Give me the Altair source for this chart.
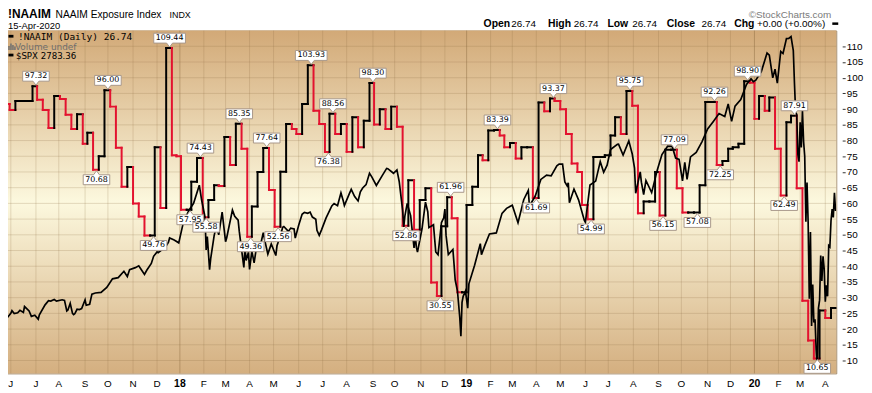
import altair as alt
import numpy as np
import pandas as pd

# ---------------- data ----------------
holidays = ["2017-05-29", "2017-07-04", "2017-09-04", "2017-11-23", "2017-12-25",
            "2018-01-01", "2018-01-15", "2018-02-19", "2018-03-30", "2018-05-28",
            "2018-07-04", "2018-09-03", "2018-11-22", "2018-12-05", "2018-12-25",
            "2019-01-01", "2019-01-21", "2019-02-18", "2019-04-19", "2019-05-27",
            "2019-07-04", "2019-09-02", "2019-11-28", "2019-12-25", "2020-01-01",
            "2020-01-20", "2020-02-17", "2020-04-10"]

naaim_start = "2017-05-24"      # weekly readings (Wednesdays)
naaim_prev = 96.9               # reading in force at the left edge
naaim = [91.6, 89.7, 92.6, 92.6, 92.6, 97.32, 93.0, 89.7, 84.0, 94.2,
         93.2, 88.2, 83.7, 88.4, 79.0, 82.5, 70.68, 75.0, 96.00, 90.8,
         77.7, 65.3, 71.6, 60.0, 55.8, 49.76, 49.76, 77.9, 58.5, 109.44,
         75.3, 75.0, 57.95, 57.95, 66.9, 74.43, 55.58, 61.1, 65.8, 65.5,
         81.1, 72.2, 85.35, 77.4, 49.36, 59.0, 70.0, 77.64, 64.3, 52.56,
         70.1, 85.3, 83.7, 82.1, 91.6, 103.93, 89.5, 85.3, 76.38, 88.56,
         82.1, 85.3, 76.4, 87.4, 77.9, 86.3, 98.30, 85.1, 90.0, 83.7,
         90.8, 84.4, 52.86, 67.4, 51.6, 61.1, 64.8, 34.8, 30.55, 52.7,
         61.96, 55.3, 31.7, 31.7, 59.5, 65.3, 75.3, 73.7, 83.2, 83.39,
         81.6, 77.9, 79.2, 74.3, 77.9, 77.9, 61.69, 92.1, 89.3, 93.37,
         92.6, 90.0, 82.1, 72.7, 70.0, 59.5, 54.99, 74.8, 74.8, 75.3,
         81.6, 87.4, 82.1, 95.75, 91.1, 56.9, 60.6, 60.6, 70.0, 56.15,
         77.09, 77.09, 64.8, 57.08, 57.08, 57.08, 65.8, 92.26, 92.26, 72.25,
         73.5, 77.4, 77.9, 79.0, 98.90, 98.4, 86.9, 94.2, 89.5, 93.7,
         77.4, 62.49, 85.8, 87.91, 64.8, 29.0, 16.4, 10.65, 25.9, 23.5,
         26.74, 26.74]

spx_dates = [
    "2017-05-22", "2017-05-24", "2017-05-26", "2017-06-01", "2017-06-02", "2017-06-06", "2017-06-09",
    "2017-06-13", "2017-06-16", "2017-06-19", "2017-06-23", "2017-06-27", "2017-06-30", "2017-07-06",
    "2017-07-07", "2017-07-14", "2017-07-19", "2017-07-21", "2017-07-26", "2017-07-28", "2017-08-04",
    "2017-08-08", "2017-08-10", "2017-08-11", "2017-08-15", "2017-08-17", "2017-08-18", "2017-08-21",
    "2017-08-23", "2017-08-25", "2017-08-29", "2017-09-01", "2017-09-05", "2017-09-08", "2017-09-12",
    "2017-09-15", "2017-09-22", "2017-09-29", "2017-10-06", "2017-10-13", "2017-10-20", "2017-10-25",
    "2017-10-27", "2017-11-03", "2017-11-08", "2017-11-10", "2017-11-15", "2017-11-17", "2017-11-24",
    "2017-11-28", "2017-12-01", "2017-12-04", "2017-12-08", "2017-12-13", "2017-12-15", "2017-12-18",
    "2017-12-22", "2017-12-29",
    "2018-01-05", "2018-01-12", "2018-01-19", "2018-01-26", "2018-01-30", "2018-02-02", "2018-02-05",
    "2018-02-06", "2018-02-08", "2018-02-09", "2018-02-14", "2018-02-16", "2018-02-21", "2018-02-26",
    "2018-03-01", "2018-03-02", "2018-03-09", "2018-03-13", "2018-03-16", "2018-03-19", "2018-03-23",
    "2018-03-26", "2018-03-27", "2018-03-29", "2018-04-02", "2018-04-04", "2018-04-06", "2018-04-10",
    "2018-04-13", "2018-04-18", "2018-04-20", "2018-04-24", "2018-04-27", "2018-05-03", "2018-05-04",
    "2018-05-09", "2018-05-11", "2018-05-14", "2018-05-18", "2018-05-22", "2018-05-25", "2018-05-29",
    "2018-06-01", "2018-06-06", "2018-06-08", "2018-06-13", "2018-06-15", "2018-06-19", "2018-06-22",
    "2018-06-25", "2018-06-27", "2018-06-29", "2018-07-06", "2018-07-13", "2018-07-17", "2018-07-20",
    "2018-07-25", "2018-07-27", "2018-07-30", "2018-08-03", "2018-08-07", "2018-08-10", "2018-08-15",
    "2018-08-17", "2018-08-21", "2018-08-24", "2018-08-29", "2018-08-31", "2018-09-07", "2018-09-14",
    "2018-09-20", "2018-09-21", "2018-09-28", "2018-10-03", "2018-10-05", "2018-10-10", "2018-10-11",
    "2018-10-12", "2018-10-16", "2018-10-19", "2018-10-24", "2018-10-25", "2018-10-26", "2018-10-29",
    "2018-11-02", "2018-11-07", "2018-11-09", "2018-11-12", "2018-11-16", "2018-11-20", "2018-11-23",
    "2018-11-28", "2018-11-30", "2018-12-03", "2018-12-04", "2018-12-07", "2018-12-10", "2018-12-13",
    "2018-12-14", "2018-12-17", "2018-12-19", "2018-12-21", "2018-12-24", "2018-12-26", "2018-12-27",
    "2018-12-31",
    "2019-01-03", "2019-01-04", "2019-01-11", "2019-01-18", "2019-01-22", "2019-01-25", "2019-01-31",
    "2019-02-08", "2019-02-15", "2019-02-22", "2019-03-01", "2019-03-08", "2019-03-15", "2019-03-21",
    "2019-03-22", "2019-03-29", "2019-04-05", "2019-04-12", "2019-04-18", "2019-04-26", "2019-04-30",
    "2019-05-03", "2019-05-07", "2019-05-09", "2019-05-10", "2019-05-13", "2019-05-17", "2019-05-23",
    "2019-05-31", "2019-06-03", "2019-06-07", "2019-06-14", "2019-06-20", "2019-06-25", "2019-06-28",
    "2019-07-03", "2019-07-12", "2019-07-15", "2019-07-19", "2019-07-26", "2019-07-31", "2019-08-02",
    "2019-08-05", "2019-08-09", "2019-08-12", "2019-08-14", "2019-08-16", "2019-08-23", "2019-08-30",
    "2019-09-06", "2019-09-13", "2019-09-19", "2019-09-24", "2019-09-27", "2019-10-02", "2019-10-04",
    "2019-10-08", "2019-10-11", "2019-10-18", "2019-10-25", "2019-11-01", "2019-11-08", "2019-11-15",
    "2019-11-22", "2019-11-27", "2019-12-03", "2019-12-06", "2019-12-13", "2019-12-20", "2019-12-27",
    "2019-12-31",
    "2020-01-03", "2020-01-08", "2020-01-10", "2020-01-17", "2020-01-22", "2020-01-27", "2020-01-29",
    "2020-01-31", "2020-02-05", "2020-02-07", "2020-02-12", "2020-02-14", "2020-02-19", "2020-02-21",
    "2020-02-24", "2020-02-25", "2020-02-26", "2020-02-27", "2020-02-28", "2020-03-02", "2020-03-03",
    "2020-03-04", "2020-03-05", "2020-03-06", "2020-03-09", "2020-03-10", "2020-03-11", "2020-03-12",
    "2020-03-13", "2020-03-16", "2020-03-17", "2020-03-18", "2020-03-19", "2020-03-20", "2020-03-23",
    "2020-03-24", "2020-03-25", "2020-03-26", "2020-03-27", "2020-03-30", "2020-03-31", "2020-04-01",
    "2020-04-02", "2020-04-03", "2020-04-06", "2020-04-07", "2020-04-08", "2020-04-09", "2020-04-13",
    "2020-04-14", "2020-04-15"]
spx_close = [
    2394.0, 2404.4, 2415.8, 2430.1, 2439.1, 2429.3, 2431.8,
    2440.4, 2433.2, 2453.5, 2438.3, 2419.4, 2423.4, 2409.8,
    2425.2, 2459.3, 2473.8, 2472.5, 2477.8, 2472.1, 2476.8,
    2474.9, 2438.2, 2441.3, 2464.6, 2430.0, 2425.6, 2428.4,
    2444.0, 2443.1, 2446.3, 2476.6, 2457.9, 2461.4, 2496.5,
    2500.2, 2502.2, 2519.4, 2549.3, 2553.2, 2575.2, 2557.2,
    2581.1, 2587.8, 2594.4, 2582.3, 2564.6, 2578.9, 2602.4,
    2627.0, 2642.2, 2639.4, 2651.5, 2662.9, 2675.8, 2690.2,
    2683.3, 2673.6,
    2743.2, 2786.2, 2810.3, 2872.9, 2822.4, 2762.1, 2648.9,
    2695.1, 2581.0, 2619.6, 2698.6, 2732.2, 2701.3, 2779.6,
    2677.7, 2691.3, 2786.6, 2765.3, 2752.0, 2712.9, 2588.3,
    2658.6, 2612.6, 2640.9, 2581.9, 2644.7, 2604.5, 2656.9,
    2656.3, 2708.6, 2670.1, 2634.6, 2669.9, 2629.7, 2663.4,
    2697.8, 2727.7, 2730.1, 2713.0, 2724.4, 2721.3, 2689.9,
    2734.6, 2772.4, 2779.0, 2775.6, 2779.7, 2762.6, 2754.9,
    2717.1, 2699.6, 2718.4, 2759.8, 2801.3, 2809.6, 2801.8,
    2846.1, 2818.8, 2802.6, 2840.4, 2858.5, 2833.3, 2818.4,
    2850.1, 2863.0, 2874.7, 2914.0, 2901.5, 2871.7, 2905.0,
    2930.8, 2929.7, 2914.0, 2925.5, 2885.6, 2785.7, 2728.4,
    2767.1, 2809.9, 2767.8, 2656.1, 2705.6, 2658.7, 2641.3,
    2723.1, 2813.9, 2781.0, 2726.2, 2736.3, 2641.9, 2632.6,
    2743.8, 2760.2, 2790.4, 2700.1, 2633.1, 2637.7, 2650.5,
    2600.0, 2545.9, 2507.0, 2416.6, 2351.1, 2467.7, 2488.8,
    2506.9,
    2447.9, 2531.9, 2596.3, 2670.7, 2632.9, 2664.8, 2704.1,
    2707.9, 2775.6, 2792.7, 2803.7, 2743.1, 2822.5, 2854.9,
    2800.7, 2834.4, 2892.7, 2907.4, 2905.0, 2939.9, 2945.8,
    2945.6, 2884.1, 2870.7, 2881.4, 2811.9, 2859.5, 2822.2,
    2752.1, 2744.5, 2873.3, 2887.0, 2954.2, 2917.4, 2941.8,
    2995.8, 3013.8, 3014.3, 2976.6, 3025.9, 2980.4, 2932.1,
    2844.7, 2918.7, 2883.1, 2840.6, 2889.0, 2847.1, 2926.5,
    2978.7, 3007.4, 3006.8, 2966.6, 2961.8, 2887.6, 2952.0,
    2893.1, 2970.3, 2986.2, 3022.6, 3066.9, 3093.1, 3120.5,
    3110.3, 3153.6, 3093.2, 3145.9, 3168.8, 3221.2, 3240.0,
    3230.8,
    3234.9, 3253.1, 3265.4, 3329.6, 3321.8, 3243.6, 3273.4,
    3225.5, 3334.7, 3327.7, 3379.4, 3380.2, 3386.2, 3337.8,
    3225.9, 3128.2, 3116.4, 2978.8, 2954.2, 3090.2, 3003.4,
    3130.1, 3023.9, 2972.4, 2746.6, 2882.2, 2741.4, 2480.6,
    2711.0, 2386.1, 2529.2, 2398.1, 2409.4, 2304.9, 2237.4,
    2447.3, 2475.6, 2630.1, 2541.5, 2626.7, 2584.6, 2470.5,
    2526.9, 2488.7, 2663.7, 2659.4, 2750.0, 2789.8, 2761.6,
    2846.1, 2783.4]
spx_overlay_range = [2222.5, 3407.0]   # overlay scale spans the whole panel height

peaks = [97.32, 96.00, 109.44, 74.43, 85.35, 77.64, 103.93, 88.56, 98.30,
         61.96, 83.39, 93.37, 95.75, 77.09, 92.26, 98.90, 87.91]
troughs = [70.68, 49.76, 57.95, 55.58, 49.36, 52.56, 76.38, 52.86, 30.55,
           61.69, 54.99, 56.15, 57.08, 72.25, 62.49, 10.65]
month_letters = list("JFMAMJJASOND")
y_ticks = list(range(10, 115, 5))

# ---------------- build tables ----------------
days = pd.bdate_range("2017-05-22", "2020-04-15")
days = days[~days.isin(pd.to_datetime(holidays))]
N = len(days)


def tpos(d):
    return int(days.searchsorted(pd.Timestamp(d)))


wk = pd.date_range(naaim_start, periods=len(naaim), freq="7D")
t = [tpos(d) for d in wk]
UP, DOWN = "#000000", "#E3122F"
segs = [dict(x=-2, x2=t[0], y=naaim_prev, y2=naaim_prev, c=UP)]
prev = naaim_prev
for i, v in enumerate(naaim):
    c = UP if v >= prev else DOWN
    xe = t[i + 1] if i + 1 < len(t) else N + 2
    segs.append(dict(x=t[i], x2=t[i], y=prev, y2=v, c=c))
    segs.append(dict(x=t[i], x2=xe, y=v, y2=v, c=c))
    prev = v
seg_df = pd.DataFrame(segs)

spx_df = pd.DataFrame({"x": [tpos(d) for d in spx_dates], "v": spx_close})


def box_path(label, kind):
    w = (sum(2.54 if ch == "." else 5.09 for ch in label) + 4) / 2
    if kind == "peak":
        return f"M{-w:.1f},-15H{w:.1f}V-5H3L0,-1L-3,-5H{-w:.1f}Z"
    return f"M{-w:.1f},15H{w:.1f}V5H3L0,1L-3,5H{-w:.1f}Z"


rows = []
for kind, vals in (("peak", peaks), ("trough", troughs)):
    for v in vals:
        k = int(np.argmin([abs(a - v) for a in naaim]))
        while k + 1 < len(naaim) and naaim[k + 1] == naaim[k]:
            k += 1
        lab = f"{v:.2f}"
        rows.append(dict(x=t[k] + 3, y=v, lab=lab, kind=kind, path=box_path(lab, kind)))
lab_df = pd.DataFrame(rows)

months = pd.date_range("2017-06-01", "2020-04-01", freq="MS")
mon_df = pd.DataFrame({
    "x": [tpos(m) for m in months],
    "lab": [f"{m.year % 100:02d}" if m.month == 1 else month_letters[m.month - 1] for m in months],
    "yr": [m.month == 1 for m in months],
})

# ---------------- chart ----------------
W, H = 841, 346
xs = alt.Scale(domain=[0.2, 729.6], nice=False, zero=False)
ys = alt.Scale(domain=[5.9, 115.0], nice=False, zero=False)
ys_spx = alt.Scale(domain=spx_overlay_range, nice=False, zero=False)
one = pd.DataFrame({"a": [0]})
SANS = "Liberation Sans"

bg = alt.Chart(one).mark_rect(fill={
    "gradient": "linear", "x1": 0, "y1": 0, "x2": 0, "y2": 1,
    "stops": [{"offset": 0, "color": "#D2A977"},
              {"offset": 0.5, "color": "#FCF8DE"},
              {"offset": 1, "color": "#D4AF80"}]}).encode(
    x=alt.value(0), x2=alt.value(W), y=alt.value(0), y2=alt.value(H))

hgrid = alt.Chart(pd.DataFrame({"v": y_ticks})).mark_rule(
    color="#8A6A40", opacity=0.22, strokeWidth=1).encode(
    y=alt.Y("v:Q", scale=ys, axis=alt.Axis(
        orient="right", values=y_ticks, grid=False, domain=False, ticks=True,
        tickSize=3, tickColor="#333333", offset=6, labelPadding=1,
        labelFont=SANS, labelFontSize=10, labelColor="#000000", title=None)))

vgrid = alt.Chart(mon_df).mark_rule(strokeWidth=1, color="#8A6A40").encode(
    x=alt.X("x:Q", scale=xs, axis=None),
    opacity=alt.condition("datum.yr", alt.value(0.45), alt.value(0.22)))

naaim_l = alt.Chart(seg_df).mark_rule(strokeWidth=2, strokeCap="square", clip=True).encode(
    x=alt.X("x:Q", scale=xs, axis=None), x2="x2:Q",
    y=alt.Y("y:Q", scale=ys, axis=None), y2="y2:Q",
    color=alt.Color("c:N", scale=None))

spx_l = alt.Chart(spx_df).mark_line(color="#000000", strokeWidth=1.7, clip=True).encode(
    x=alt.X("x:Q", scale=xs, axis=None), y=alt.Y("v:Q", scale=ys_spx, axis=None))

boxes = alt.Chart(lab_df).mark_point(
    filled=True, fill="#FFFFFF", stroke="#A8988A", strokeWidth=1, size=4, opacity=1).encode(
    x=alt.X("x:Q", scale=xs, axis=None), y=alt.Y("y:Q", scale=ys, axis=None),
    shape=alt.Shape("path:N", scale=None))

lab_peak = alt.Chart(lab_df[lab_df.kind == "peak"]).mark_text(
    font="DejaVu Sans", fontSize=8, baseline="middle", dy=-10, color="#000000").encode(
    x=alt.X("x:Q", scale=xs, axis=None), y=alt.Y("y:Q", scale=ys, axis=None), text="lab:N")
lab_tr = alt.Chart(lab_df[lab_df.kind == "trough"]).mark_text(
    font="DejaVu Sans", fontSize=8, baseline="middle", dy=10, color="#000000").encode(
    x=alt.X("x:Q", scale=xs, axis=None), y=alt.Y("y:Q", scale=ys, axis=None), text="lab:N")

mon_txt = alt.Chart(mon_df[~mon_df.yr]).mark_text(font=SANS, fontSize=10, baseline="middle").encode(
    x=alt.X("x:Q", scale=xs, axis=None), y=alt.value(H + 11), text="lab:N")
yr_txt = alt.Chart(mon_df[mon_df.yr]).mark_text(font=SANS, fontSize=10.5, fontWeight="bold",
                                                baseline="middle").encode(
    x=alt.X("x:Q", scale=xs, axis=None), y=alt.value(H + 11), text="lab:N")


def txt(s, x, y, size, weight="normal", color="#000000", font=SANS, align="left"):
    return alt.Chart(one).mark_text(
        text=s, fontSize=size, fontWeight=weight, color=color, font=font,
        align=align, baseline="alphabetic").encode(x=alt.value(x), y=alt.value(y))


def bar(x1, x2, y1, y2, w, color="#000000"):
    return alt.Chart(one).mark_rule(strokeWidth=w, color=color).encode(
        x=alt.value(x1), x2=alt.value(x2), y=alt.value(y1), y2=alt.value(y2))


GR = "#707070"
deco = [
    txt("!NAAIM", 5, -12.8, 12, "bold"),
    txt("NAAIM Exposure Index", 53, -12.8, 10.3),
    txt("INDX", 168, -12.8, 9),
    txt("15-Apr-2020", 5, -1.7, 9.5),
    txt("\u00a9StockCharts.com", 836, -13, 10, color="#7A7A7A", align="right"),
    txt("Open", 485, -3.5, 10.5, "bold"), txt("26.74", 513, -3.5, 10),
    txt("High", 550, -3.5, 10.5, "bold"), txt("26.74", 576, -3.5, 10),
    txt("Low", 610, -3.5, 10.5, "bold"), txt("26.74", 635, -3.5, 10),
    txt("Close", 670, -3.5, 10.5, "bold"), txt("26.74", 705, -3.5, 10),
    txt("Chg", 738, -3.5, 10.5, "bold"), txt("+0.00 (+0.00%)", 761, -3.5, 10),
    bar(837, 843, -7, -7, 2.5),
    bar(5.5, 10.5, 5.7, 5.7, 2.8),
    txt("!NAAIM (Daily) 26.74", 15, 9.3, 9.6, font="DejaVu Sans Mono"),
    bar(6, 6, 19.5, 15.5, 1.5, GR), bar(8, 8, 19.5, 13, 1.5, GR),
    bar(10, 10, 19.5, 14.5, 1.5, GR), bar(12, 12, 19.5, 16, 1.5, GR),
    txt("Volume undef", 12, 19.3, 9, color="#6E6E6E", font="DejaVu Sans"),
    bar(5.5, 10.5, 24.7, 24.7, 2.8),
    txt("$SPX 2783.36", 13, 28.3, 8.7, font="DejaVu Sans"),
]

chart = alt.layer(bg, hgrid, vgrid, naaim_l, spx_l, boxes, lab_peak, lab_tr, mon_txt, yr_txt,
                  *deco).resolve_scale(y="independent").properties(
    width=W, height=H,
    padding={"left": -5, "top": 21, "right": 28, "bottom": 17},
    autosize=alt.AutoSizeParams(type="none"),
    background="#FFFFFF",
).configure_view(stroke="#9A8262", strokeWidth=1)

chart.save("out.html", embed_options={"renderer": "svg", "actions": False})
